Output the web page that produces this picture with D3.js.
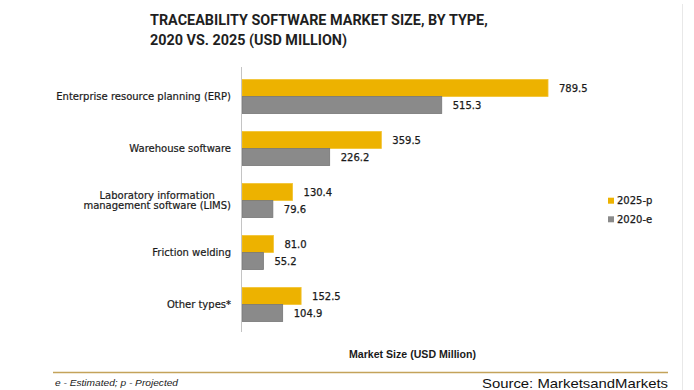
<!DOCTYPE html>
<html>
<head>
<meta charset="utf-8">
<script src="https://cdn.jsdelivr.net/npm/d3@7"></script>
<style>
  html, body { margin: 0; padding: 0; background: #ffffff; }
  svg { display: block; }
</style>
</head>
<body>
<script>
// ---- data ----
const categories = [
  "Enterprise resource planning (ERP)",
  "Warehouse software",
  "Laboratory information\nmanagement software (LIMS)",
  "Friction welding",
  "Other types*"
];
const seriesNames = ["2025-p", "2020-e"];
const values2025 = [789.5, 359.5, 130.4, 81.0, 152.5];
const values2020 = [515.3, 226.2, 79.6, 55.2, 104.9];
const titleLines = ["TRACEABILITY SOFTWARE MARKET SIZE, BY TYPE,", "2020 VS. 2025 (USD MILLION)"];
const xAxisTitle = "Market Size (USD Million)";
const footnote = "e - Estimated; p - Projected";
const sourceText = "Source: MarketsandMarkets";

// ---- layout ----
const W = 694, H = 390;
const colors = { "2025-p": "#EDB200", "2020-e": "#8A8A8A" };
const strokes = { "2025-p": "#F2C230", "2020-e": "#767676" };
const labelFont = "'DejaVu Sans', sans-serif";

const svg = d3.select("body").append("svg").attr("width", W).attr("height", H);

const x = d3.scaleLinear().domain([0, 800]).range([242, 242 + 800 * 0.3876]);
const y = d3.scaleBand().domain(categories).range([70.5, 330.5])
  .paddingInner(18 / 52).paddingOuter(9 / 52);
const ySub = d3.scaleBand().domain(seriesNames).range([0, y.bandwidth()]);

const rows = categories.map((c, i) => ({ cat: c, vals: [
  { s: "2025-p", v: values2025[i] },
  { s: "2020-e", v: values2020[i] }
]}));

// title
const titleG = svg.append("g").attr("font-family", "Roboto, 'Liberation Sans', sans-serif")
  .attr("font-weight", 700).attr("font-size", 14).attr("fill", "#1f1f1f");
const t1 = titleG.append("text").attr("x", 150).attr("y", 25).text(titleLines[0]);
const t2 = titleG.append("text").attr("x", 150).attr("y", 45).text(titleLines[1]);
const k = 197 / t2.node().getComputedTextLength();
t1.attr("textLength", t1.node().getComputedTextLength() * k).attr("lengthAdjust", "spacingAndGlyphs");
t2.attr("textLength", 197).attr("lengthAdjust", "spacingAndGlyphs");

// right border line
svg.append("line").attr("x1", 682.5).attr("x2", 682.5).attr("y1", 4).attr("y2", H)
  .attr("stroke", "#e8e8e8").attr("stroke-width", 1);

// bars
const groups = svg.append("g").selectAll("g").data(rows).join("g")
  .attr("transform", d => `translate(0,${y(d.cat)})`);

groups.selectAll("rect").data(d => d.vals).join("rect")
  .attr("x", x(0))
  .attr("y", d => ySub(d.s))
  .attr("width", d => x(d.v) - x(0))
  .attr("height", ySub.bandwidth())
  .attr("fill", d => colors[d.s])
  .attr("stroke", d => strokes[d.s])
  .attr("stroke-width", 0.8);

groups.selectAll("text.val").data(d => d.vals).join("text")
  .attr("class", "val")
  .attr("x", d => x(d.v) + 11)
  .attr("y", d => ySub(d.s) + ySub.bandwidth() / 2)
  .attr("dy", "0.36em")
  .attr("font-family", labelFont)
  .attr("font-size", 10)
  .attr("fill", "#1a1a1a")
  .attr("stroke", "#1a1a1a").attr("stroke-width", 0.25)
  .text(d => d3.format(".1f")(d.v));

// y axis (category labels) via d3.axisLeft — ticks are placed at band centres
const yAxis = svg.append("g").attr("transform", `translate(${x(0) - 0.5},0)`)
  .call(d3.axisLeft(y).tickSize(0).tickPadding(11).tickFormat(""));
yAxis.select(".domain").remove();
svg.append("line").attr("x1", x(0) - 0.5).attr("x2", x(0) - 0.5).attr("y1", 67).attr("y2", 332)
  .attr("stroke", "#c4c4c4").attr("stroke-width", 1);

yAxis.selectAll(".tick").each(function(d) {
  const lines = d.split("\n");
  const tx = d3.select(this).append("text")
    .attr("font-family", labelFont).attr("font-size", 10)
    .attr("fill", "#1a1a1a").attr("stroke", "#1a1a1a").attr("stroke-width", 0.2);
  if (lines.length === 1) {
    tx.attr("text-anchor", "end").attr("x", -11 + 0.5).attr("y", 0).attr("dy", "0.36em").text(d);
  } else {
    const tmp = lines.map(l => tx.append("tspan").text(l));
    const widths = tmp.map(t => t.node().getComputedTextLength());
    const maxW = Math.max(...widths);
    tx.selectAll("tspan").remove();
    tx.attr("text-anchor", "middle");
    lines.forEach((l, i) => {
      tx.append("tspan").attr("x", -11 + 0.5 - maxW / 2)
        .attr("y", (i - (lines.length - 1) / 2) * 10.7)
        .attr("dy", "0.36em").text(l);
    });
  }
});

// legend
const legend = svg.append("g").selectAll("g").data(seriesNames).join("g")
  .attr("transform", (d, i) => `translate(608,${200.7 + i * 18.6})`);
legend.append("rect").attr("x", 0).attr("y", -3).attr("width", 6).attr("height", 6)
  .attr("fill", d => colors[d]);
legend.append("text").attr("x", 9).attr("y", 0).attr("dy", "0.36em")
  .attr("font-family", labelFont).attr("font-size", 10)
  .attr("fill", "#1a1a1a").attr("stroke", "#1a1a1a").attr("stroke-width", 0.25)
  .text(d => d);

// x axis title
svg.append("text").attr("x", 349).attr("y", 354).attr("dy", "0.36em")
  .attr("font-family", "'Liberation Sans', Arial, sans-serif").attr("font-weight", 700)
  .attr("font-size", 10).attr("fill", "#1a1a1a")
  .attr("textLength", 127).attr("lengthAdjust", "spacingAndGlyphs")
  .text(xAxisTitle);

// gold rule
svg.append("line").attr("x1", 53).attr("x2", 668).attr("y1", 372.5).attr("y2", 372.5)
  .attr("stroke", "#C4A35A").attr("stroke-width", 1.6);

// footnote
svg.append("text").attr("x", 55).attr("y", 383).attr("dy", "0.36em")
  .attr("font-family", "'Liberation Sans', Arial, sans-serif").attr("font-style", "italic")
  .attr("font-size", 9).attr("fill", "#1a1a1a")
  .attr("textLength", 123).attr("lengthAdjust", "spacingAndGlyphs")
  .text(footnote);

// source
svg.append("text").attr("x", 482).attr("y", 383).attr("dy", "0.36em")
  .attr("font-family", "'Liberation Sans', Arial, sans-serif")
  .attr("font-size", 13).attr("fill", "#111")
  .attr("textLength", 186).attr("lengthAdjust", "spacingAndGlyphs")
  .text(sourceText);
</script>
</body>
</html>
